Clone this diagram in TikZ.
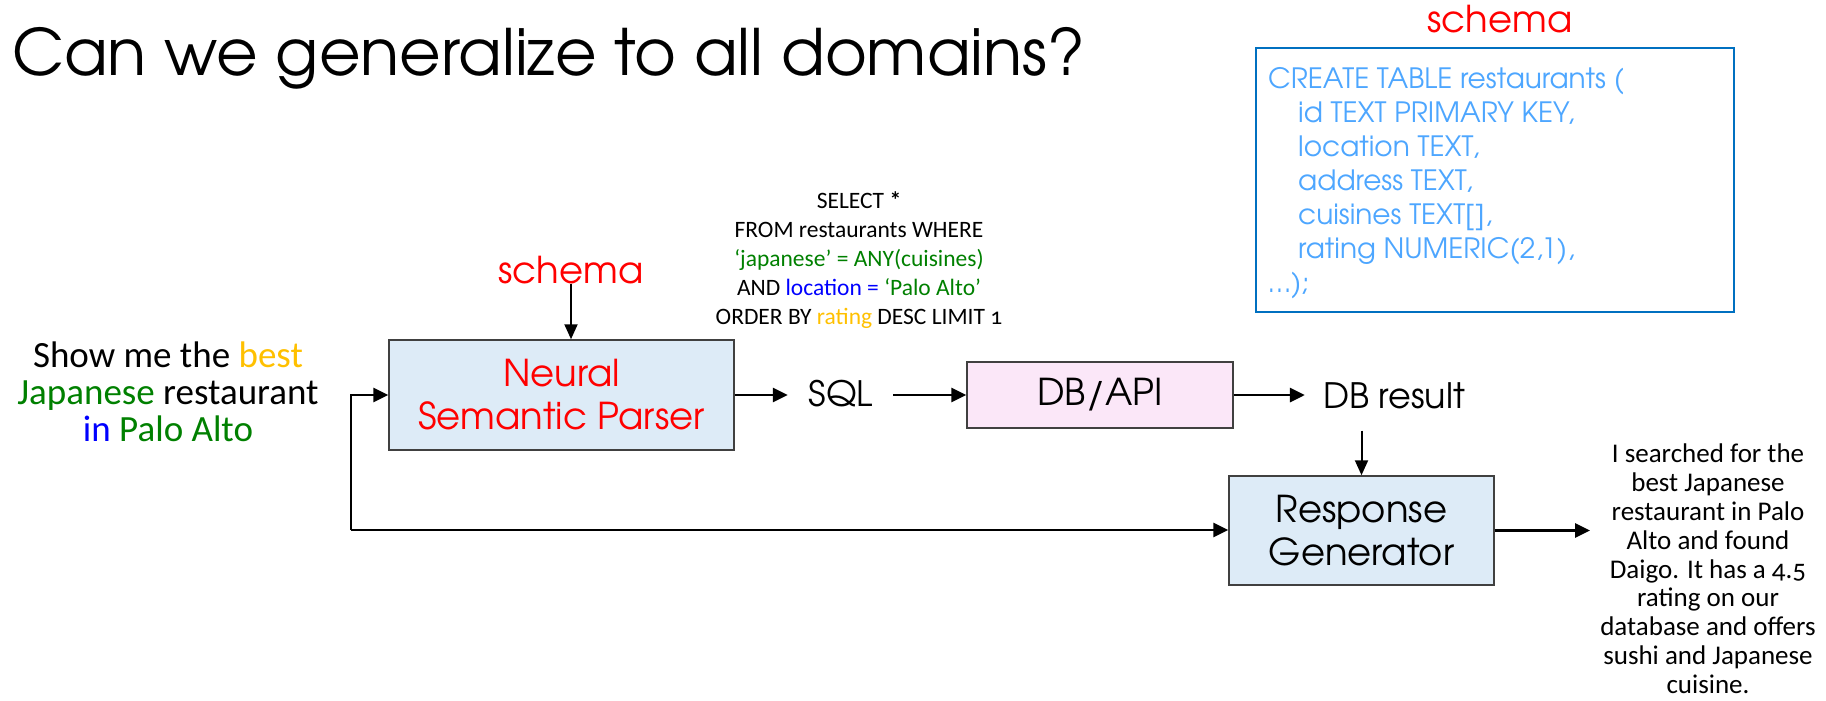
\documentclass[tikz,border=0pt]{standalone}
\usepackage{fontspec}
\usetikzlibrary{arrows.meta}
\newfontfamily\gothic{TeX Gyre Adventor}
\newfontfamily\corb{Carlito}[Numbers=OldStyle]
\definecolor{gold}{RGB}{255,192,0}
\definecolor{dgreen}{RGB}{0,128,0}
\definecolor{pblue}{RGB}{0,0,255}
\definecolor{pred}{RGB}{255,0,0}
\definecolor{sqlblue}{RGB}{77,166,255}
\definecolor{boxblue}{RGB}{0,112,192}
\definecolor{fillblue}{RGB}{221,235,247}
\definecolor{fillpink}{RGB}{251,231,248}
\definecolor{edgegray}{RGB}{64,64,64}
\tikzset{
  blockbox/.style={draw=edgegray, line width=1.5pt, inner sep=0pt, font=\gothic\fontsize{37}{43}\selectfont, align=center},
  arr/.style={line width=2.8pt, -{Triangle[length=15pt,width=14pt]}},
  thinarr/.style={line width=2pt, -{Triangle[length=15pt,width=13pt]}},
  lbl/.style={inner sep=0pt},
}
\begin{document}
\begin{tikzpicture}[x=1pt,y=-1pt]
\useasboundingbox (0,0) rectangle (1826,701);
% title
\node[lbl, anchor=base west, font=\gothic\fontsize{64}{70}\selectfont] (title) at (12,76) {Can we generalize to all domains?};
% schema box
\node[lbl, anchor=base, text=pred, font=\gothic\fontsize{37}{40}\selectfont] (schematop) at (1500,33) {schema};
\node[draw=boxblue, line width=2pt, minimum width=478pt, minimum height=264pt, inner sep=0pt] (schemabox) at (1495,180) {};
\node[lbl, anchor=north west, text=sqlblue, align=left, font=\gothic\fontsize{28}{34}\selectfont] (schematext) at (1268,67)
 {CREATE TABLE restaurants (\\
  \hspace*{30pt}id TEXT PRIMARY KEY,\\
  \hspace*{30pt}location TEXT,\\
  \hspace*{30pt}address TEXT,\\
  \hspace*{30pt}cuisines TEXT[],\\
  \hspace*{30pt}rating NUMERIC(2,1),\\
  \dots);};
% input
\node[lbl, anchor=north, align=center, font=\corb\fontsize{37}{37}\selectfont] (input) at (168,342)
 {Show me the \textcolor{gold}{best}\\
  \textcolor{dgreen}{Japanese} restaurant\\
  \textcolor{pblue}{in} \textcolor{dgreen}{Palo Alto}};
% SQL query
\node[lbl, anchor=north, align=center, font=\corb\fontsize{23.5}{29}\selectfont] (query) at (859,191)
 {SELECT \textbf{*}\\
  FROM restaurants WHERE\\
  \textcolor{dgreen}{‘japanese’ = ANY(cuisines)}\\
  AND \textcolor{pblue}{location =} \textcolor{dgreen}{‘Palo Alto’}\\
  ORDER BY \textcolor{gold}{rating} DESC LIMIT 1};
% blocks
\node[blockbox, fill=fillblue, minimum width=345pt, minimum height=110pt, text=pred] (parser) at (561.5,395) {Neural\\Semantic Parser};
\node[lbl, anchor=base, text=pred, font=\gothic\fontsize{37}{40}\selectfont] (schemamid) at (571,283) {schema};
\node[lbl, anchor=base, font=\gothic\fontsize{35}{40}\selectfont] (sql) at (841,406) {SQL};
\node[blockbox, fill=fillpink, minimum width=266pt, minimum height=66pt] (dbapi) at (1100,395) {DB/API};
\node[lbl, anchor=base, font=\gothic\fontsize{35}{40}\selectfont] (dbresult) at (1394,408) {DB result};
\node[blockbox, fill=fillblue, minimum width=265pt, minimum height=109pt] (response) at (1361.5,530.5) {Response\\Generator};
\node[lbl, anchor=north, align=center, font=\corb\fontsize{27}{28.8}\selectfont] (output) at (1708,444)
 {I searched for the\\best Japanese\\restaurant in Palo\\Alto and found\\Daigo. It has a 4.5\\rating on our\\database and offers\\sushi and Japanese\\cuisine.};
% connectors
\coordinate (split) at (351,530);
\draw[thinarr] (schemamid.south) -- (schemamid.south |- parser.north);
\draw[arr] (split) |- (parser.west);
\draw[arr] (split) -- (split -| response.west);
\draw[arr, shorten >=21pt] (parser.east) -- (parser.east -| sql.west);
\draw[arr, shorten <=20pt] (sql.east |- dbapi.west) -- (dbapi.west);
\draw[arr, shorten >=18pt] (dbapi.east) -- (dbapi.east -| dbresult.west);
\draw[thinarr, shorten <=22pt] (response.north |- dbresult.south) -- (response.north);
\draw[arr, shorten >=10pt] (response.east) -- (response.east -| output.west);
\end{tikzpicture}
\end{document}
